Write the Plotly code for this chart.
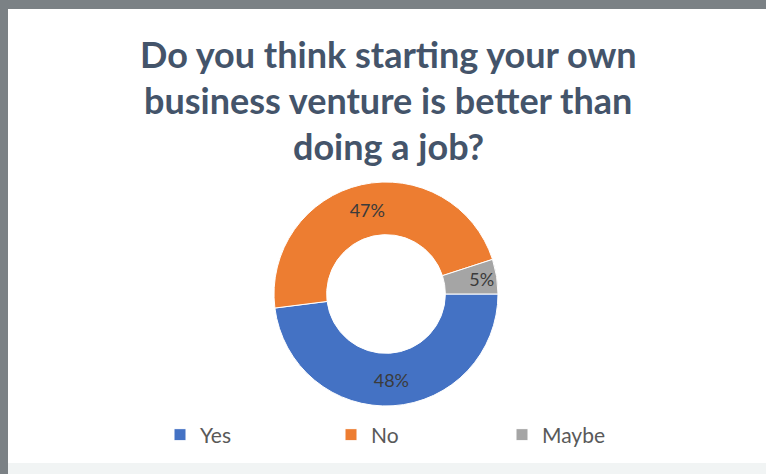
import plotly.graph_objects as go

# Survey answers and their shares (%)
answers = ["Yes", "No", "Maybe"]
shares = [48, 47, 5]
slice_colors = ["#4472C4", "#ED7D31", "#A5A5A5"]

title_lines = [
    "Do you think starting your own",
    "business venture is better than",
    "doing a job?",
]

W, H = 766, 474


def px_x(x):
    return x / W


def px_y(y):
    return 1 - y / H


fig = go.Figure(
    go.Pie(
        labels=answers,
        values=shares,
        hole=0.53,
        sort=False,
        direction="clockwise",
        rotation=90,
        marker=dict(colors=slice_colors, line=dict(color="white", width=1)),
        texttemplate="%{value}%",
        textposition="inside",
        insidetextorientation="horizontal",
        textfont=dict(family="Lato", size=18, color="#3b3b3b"),
        domain=dict(x=[px_x(274), px_x(498)], y=[px_y(406), px_y(182)]),
        hoverinfo="label+percent",
    )
)

# Title, one annotation per line
title_y = [54, 100, 146]
annotations = []
for line, yy in zip(title_lines, title_y):
    annotations.append(
        dict(
            text=f"<b>{line}</b>",
            x=px_x(388),
            y=px_y(yy),
            xref="paper",
            yref="paper",
            xanchor="center",
            yanchor="middle",
            showarrow=False,
            font=dict(family="Lato", size=36, color="#44546A"),
        )
    )

# Frame around the chart panel
shapes = [
    dict(type="rect", xref="paper", yref="paper",
         x0=0, x1=1, y0=px_y(9), y1=1.0,
         fillcolor="#7b8185", line=dict(width=0), layer="above"),
    dict(type="rect", xref="paper", yref="paper",
         x0=0, x1=px_x(8), y0=0, y1=1.0,
         fillcolor="#7b8185", line=dict(width=0), layer="above"),
    dict(type="rect", xref="paper", yref="paper",
         x0=px_x(8), x1=1, y0=0, y1=px_y(463),
         fillcolor="#f1f4f4", line=dict(width=0), layer="above"),
]

fig.update_layout(
    width=W,
    height=H,
    margin=dict(l=0, r=0, t=0, b=0),
    paper_bgcolor="white",
    plot_bgcolor="white",
    annotations=annotations,
    shapes=shapes,
    uniformtext=dict(minsize=18, mode="show"),
    showlegend=True,
    legend=dict(
        orientation="h",
        x=px_x(160),
        y=px_y(435),
        xanchor="left",
        yanchor="middle",
        entrywidth=126,
        entrywidthmode="pixels",
        itemwidth=30,
        font=dict(family="Lato", size=21, color="#595959"),
        bgcolor="rgba(0,0,0,0)",
    ),
)

fig.write_html("out.html")
